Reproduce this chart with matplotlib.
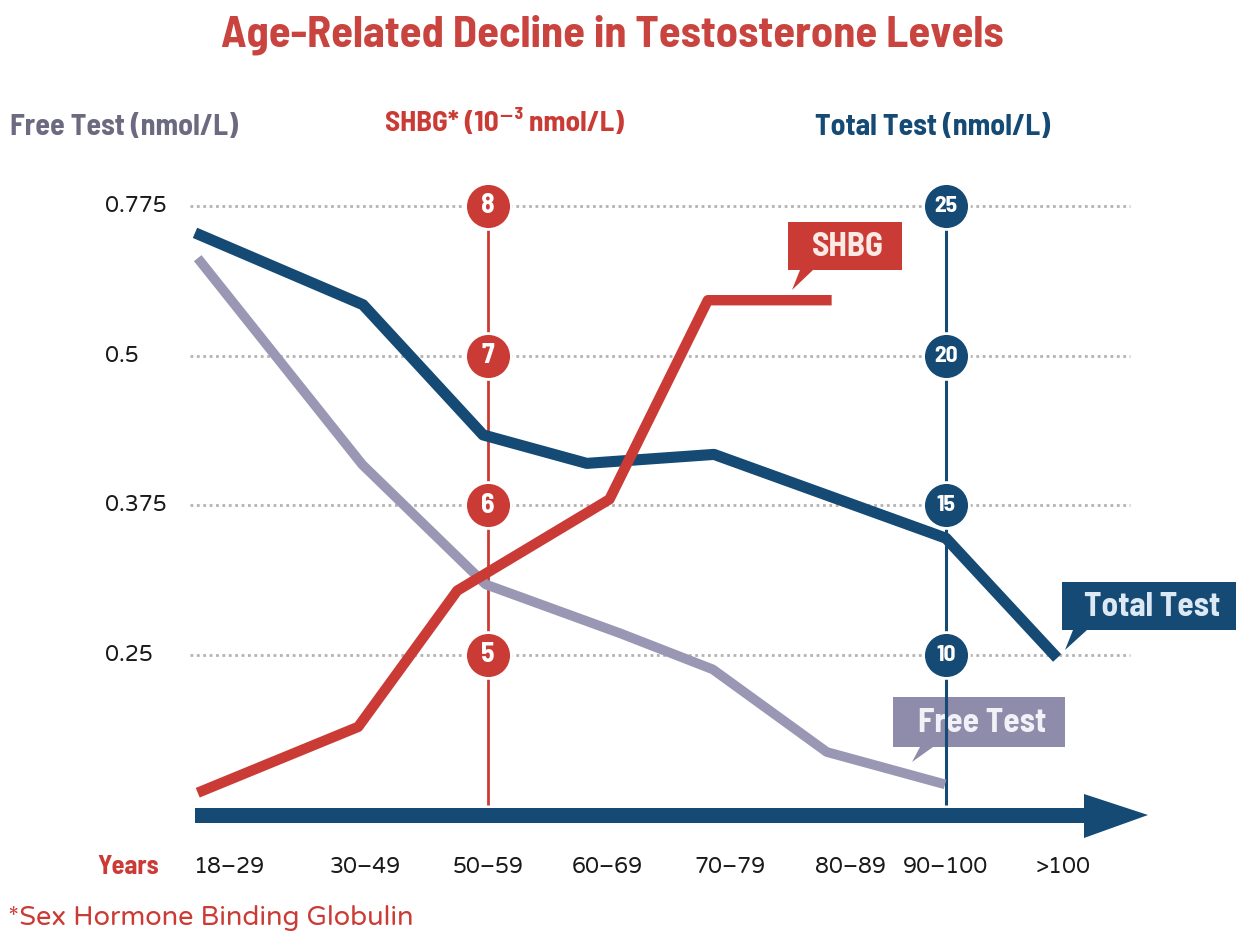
import numpy as np
import matplotlib
matplotlib.use('Agg')
import matplotlib.pyplot as plt
from matplotlib import font_manager as fm
from matplotlib.patches import Polygon
from matplotlib.transforms import blended_transform_factory

W, H = 1236, 934


def pick(*names):
    have = {f.name for f in fm.fontManager.ttflist}
    for n in names:
        if n in have:
            return n
    return 'DejaVu Sans'


HEAD = pick('Barlow Semi Condensed', 'Roboto Condensed', 'Fira Sans Condensed',
            'Archivo Narrow', 'PT Sans Narrow', 'Liberation Sans Narrow')
BODY = pick('Varela Round', 'Nunito', 'Quicksand', 'Poppins', 'Lato')
BODY_W = 'normal' if BODY == 'Varela Round' else 600

# ---- data ----
years = ['18–29', '30–49', '50–59', '60–69', '70–79', '80–89', '90–100', '>100']
free_ticks = [0.25, 0.375, 0.5, 0.775]
free_tick_labels = ['0.25', '0.375', '0.5', '0.775']
shbg_ticks = [5, 6, 7, 8]
total_ticks = [10, 15, 20, 25]

free_x = [-0.23, 0.98, 1.98, 3.11, 3.86, 4.80, 5.99]
free_y = [0.679, 0.409, 0.309, 0.268, 0.238, 0.169, 0.142]
shbg_x = [-0.23, 0.95, 1.75, 3.02, 3.82, 4.84]
shbg_y = [4.08, 4.52, 5.43, 6.04, 7.37, 7.37]
total_x = [-0.25, 0.985, 1.96, 2.83, 3.87, 6.0, 6.95]
total_y = [24.1, 21.7, 17.35, 16.4, 16.7, 13.9, 9.9]

RED = '#cb3b36'
BLUE = '#144a74'
LAV = '#9a97b5'
LAVBOX = '#8e8bab'
GREY = '#6c6a80'

# uneven spacing of the age groups on the x axis
cat_pos = [-10, 0, 1, 2, 3, 4, 5, 6, 7, 17]
cat_px = [229 - 1360, 229, 365, 488, 607, 730, 851, 946, 1063, 1063 + 1170]


def x_fwd(v):
    return np.interp(v, cat_pos, cat_px)


def x_inv(p):
    return np.interp(p, cat_px, cat_pos)


# free test axis is not linear: ticks equally spaced
free_anchor = [-1.0, 0.25, 0.375, 0.5, 0.775, 3.0]
free_level = [-9, 1, 2, 3, 4, 4 + (3.0 - 0.775) / 0.275]


def y_fwd(v):
    return np.interp(v, free_anchor, free_level)


def y_inv(l):
    return np.interp(l, free_level, free_anchor)


def level_of(ypx):
    return 1 + (655 - ypx) / 149.7


lv_bot, lv_top = level_of(H), level_of(0)

fig = plt.figure(figsize=(W / 100, H / 100), dpi=100)
ax = fig.add_axes([0, 0, 1, 1])
ax.set_xscale('function', functions=(x_fwd, x_inv))
ax.set_yscale('function', functions=(y_fwd, y_inv))
ax.set_xlim(x_inv(0), x_inv(W))
ax.set_ylim(y_inv(lv_bot), y_inv(lv_top))
ax.set_axis_off()

ax_s = ax.twinx()
ax_s.set_ylim(lv_bot + 4, lv_top + 4)
ax_s.set_visible(False)
ax_t = ax.twinx()
ax_t.set_ylim(5 + 5 * lv_bot, 5 + 5 * lv_top)
ax_t.set_visible(False)


def P(x, y):
    return (x / W, 1 - y / H)


# gridlines
ax.hlines(free_ticks, x_inv(190), x_inv(1130), colors='#b3b3b3',
          linestyles=(0, (1, 1.3)), linewidth=2, zorder=1)

# vertical scales
ax.vlines(2, shbg_ticks[0] - 1, shbg_ticks[-1], colors=RED, linewidth=2,
          transform=ax_s.transData, zorder=2)
ax.vlines(6, total_ticks[0] - 5, total_ticks[-1], colors=BLUE, linewidth=2.2,
          transform=ax_t.transData, zorder=2)

# data lines
ax.plot(free_x, free_y, color=LAV, linewidth=7, solid_capstyle='butt',
        solid_joinstyle='round', zorder=3)
ax.plot(total_x, total_y, color=BLUE, linewidth=8, solid_capstyle='butt',
        solid_joinstyle='round', transform=ax_t.transData, zorder=4)
ax.plot(shbg_x, shbg_y, color=RED, linewidth=7.5, solid_capstyle='butt',
        solid_joinstyle='round', transform=ax_s.transData, zorder=5)

# circle markers on the two inner scales
ax.scatter([2] * len(shbg_ticks), shbg_ticks, s=33 ** 2, color=RED,
           edgecolors='white', linewidths=2, transform=ax_s.transData, zorder=6)
for v in shbg_ticks:
    ax.text(2, v, str(v), transform=ax_s.transData, color='white', fontsize=20,
            fontweight='bold', family=HEAD, ha='center', va='center', zorder=7)
ax.scatter([6] * len(total_ticks), total_ticks, s=33 ** 2, color=BLUE,
           edgecolors='white', linewidths=2, transform=ax_t.transData, zorder=6)
for v in total_ticks:
    ax.text(6, v, str(v), transform=ax_t.transData, color='white', fontsize=17,
            fontweight='bold', family=HEAD, ha='center', va='center', zorder=7)

# left tick labels
lbl_tr = blended_transform_factory(fig.transFigure, ax.transData)
for v, s in zip(free_ticks, free_tick_labels):
    ax.text(105 / W, v, s, transform=lbl_tr, fontsize=16, family=BODY,
            fontweight=BODY_W, color='#1a1a1a', ha='left', va='center')

# age group labels
cat_tr = blended_transform_factory(ax.transData, fig.transFigure)
for i, s in enumerate(years):
    ax.text(i, 1 - 867 / H, s, transform=cat_tr, fontsize=16, family=BODY,
            fontweight=BODY_W, color='#1a1a1a', ha='center', va='center')

# x-axis arrow
arrow = [P(195, 808), P(1084, 808), P(1084, 794), P(1148, 815), P(1084, 838),
         P(1084, 823), P(195, 823)]
ax.add_patch(Polygon(arrow, closed=True, facecolor=BLUE, edgecolor='none',
                     transform=fig.transFigure, zorder=2))


def callout(x0, x1, y0, y1, tail, color, text, tcolor, z):
    box = [P(x0, y0), P(x1, y0), P(x1, y1), P(tail[1], y1), P(*tail[2]),
           P(tail[0], y1), P(x0, y1)]
    ax.add_patch(Polygon(box, closed=True, facecolor=color, edgecolor='none',
                         transform=fig.transFigure, zorder=z))
    cx, cy = P((x0 + min(x1, W)) / 2 + 3, (y0 + y1) / 2 + 1)
    ax.text(cx, cy, text, transform=fig.transFigure, color=tcolor, fontsize=24,
            fontweight='bold', family=HEAD, ha='center', va='center', zorder=z + 0.1)


callout(788, 902, 222, 270, (800, 813, (792, 290)), RED, 'SHBG', '#fbe9e6', 5.5)
callout(1062, 1250, 582, 630, (1073, 1087, (1065, 650)), BLUE, 'Total Test',
        '#dce9f5', 5.5)
callout(893, 1065, 697, 747, (920, 933, (912, 762)), LAVBOX, 'Free Test',
        '#f1f1f7', 1.5)

# titles and headings
fig.text(612 / W, 1 - 35 / H, 'Age-Related Decline in Testosterone Levels',
         color='#c9443e', fontsize=32, fontweight='bold', family=HEAD,
         ha='center', va='center')
fig.text(10 / W, 1 - 127 / H, 'Free Test (nmol/L)', color=GREY, fontsize=21.5,
         fontweight='bold', family=HEAD, ha='left', va='center')
fig.text(385 / W, 1 - 123 / H, 'SHBG* (10⁻³ nmol/L)', color=RED, fontsize=21,
         fontweight='bold', family=[HEAD, 'DejaVu Sans'], ha='left', va='center')
fig.text(815 / W, 1 - 127 / H, 'Total Test (nmol/L)', color=BLUE, fontsize=21.5,
         fontweight='bold', family=HEAD, ha='left', va='center')
fig.text(128 / W, 1 - 867 / H, 'Years', color=RED, fontsize=19,
         fontweight='bold', family=HEAD, ha='center', va='center')
fig.text(8 / W, 1 - 918 / H, '*Sex Hormone Binding Globulin', color=RED,
         fontsize=19.5, family=BODY, fontweight=BODY_W, ha='left', va='center')

fig.savefig('out.png', dpi=100)
